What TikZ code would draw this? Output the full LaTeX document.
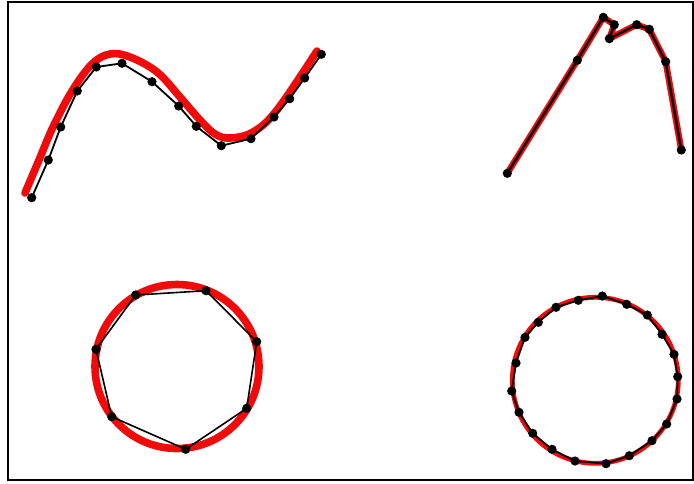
\documentclass[tikz,border=0pt]{standalone}
\usepackage{tikz}
\usetikzlibrary{positioning,calc}
\definecolor{FitRed}{RGB}{240,10,10}
\tikzset{
  vtx/.style={circle,fill=black,inner sep=0pt,minimum size=4.6pt},
  poly/.style={draw=black,line width=0.9pt,line join=round},
  redfit/.style={draw=FitRed,line width=3.8pt,line cap=round,line join=round},
}

\begin{document}
\begin{tikzpicture}[x=0.5pt,y=-0.5pt]
\useasboundingbox (0,0) rectangle (694,483);
\draw[line width=0.9pt] (8,2) rectangle (693,480);
% top left: sampled curve
\coordinate (a1) at (31.7,197.7);
\coordinate (a2) at (48.3,160);
\coordinate (a3) at (60.7,127);
\coordinate (a4) at (77.3,91);
\coordinate (a5) at (96.3,67);
\coordinate (a6) at (122,63.3);
\coordinate (a7) at (152,81.7);
\coordinate (a8) at (178.7,106);
\coordinate (a9) at (196.3,126.3);
\coordinate (a10) at (221.3,145.7);
\coordinate (a11) at (251,138.7);
\coordinate (a12) at (274,117);
\coordinate (a13) at (289.7,98.7);
\coordinate (a14) at (304.7,78);
\coordinate (a15) at (321.3,54.3);
\draw[redfit] plot[smooth,tension=0.6] coordinates {(25,193) (39,160) (53,127) (72,91) (92,64)
  (110,54) (130,57) (157,72) (180,97) (200,120) (215,134) (230,138) (253,132) (277,110) (317,51)};
\draw[poly] (a1)--(a2)--(a3)--(a4)--(a5)--(a6)--(a7)--(a8)--(a9)--(a10)--(a11)--(a12)--(a13)--(a14)--(a15);
\foreach \i in {1,...,15} \node[vtx] (na\i) at (a\i) {};
% top right: sharp curve
\coordinate (b1) at (507.3,173.3);
\coordinate (b2) at (577.3,60.3);
\coordinate (b3) at (603.3,17.3);
\coordinate (b4) at (614.3,24.7);
\coordinate (b5) at (609.3,38.7);
\coordinate (b6) at (636.7,24.7);
\coordinate (b7) at (649.3,29.3);
\coordinate (b8) at (665.7,61.7);
\coordinate (b9) at (681.3,150);
\draw[redfit,line width=3.2pt] (b1)--(b2)--(b3)--(b4)--(b5)--(b6)--(b7)--(b8)--(b9);
\draw[poly,line width=1.2pt] (b1)--(b2)--(b3)--(b4)--(b5)--(b6)--(b7)--(b8)--(b9);
\foreach \i in {1,...,9} \node[vtx] (nb\i) at (b\i) {};
% bottom left: coarse circle
\coordinate (c1) at (135.7,295);
\coordinate (c2) at (206,290.7);
\coordinate (c3) at (256.7,341.7);
\coordinate (c4) at (246.7,408.3);
\coordinate (c5) at (185.7,449.3);
\coordinate (c6) at (111.7,416.7);
\coordinate (c7) at (96,349.3);
\draw[redfit] (177,366.5) circle[radius=82];
\draw[poly,line width=0.8pt] (c1)--(c2)--(c3)--(c4)--(c5)--(c6)--(c7)--cycle;
\foreach \i in {1,...,7} \node[vtx] (nc\i) at (c\i) {};
% bottom right: fine circle
\coordinate (d1) at (602.3,296);
\coordinate (d2) at (626.7,304.3);
\coordinate (d3) at (647.3,315);
\coordinate (d4) at (662,334.3);
\coordinate (d5) at (674,354.3);
\coordinate (d6) at (677.7,376.7);
\coordinate (d7) at (677,399);
\coordinate (d8) at (666.7,424);
\coordinate (d9) at (652,440.7);
\coordinate (d10) at (629.3,455.7);
\coordinate (d11) at (606,463.7);
\coordinate (d12) at (575,461);
\coordinate (d13) at (552,449.3);
\coordinate (d14) at (532.7,433.3);
\coordinate (d15) at (519,412.3);
\coordinate (d16) at (511.7,391);
\coordinate (d17) at (516,363);
\coordinate (d18) at (525,337.3);
\coordinate (d19) at (538.3,322.3);
\coordinate (d20) at (556,307.3);
\coordinate (d21) at (578.3,300.3);
\draw[redfit,line width=2.4pt] (595.3,380.3) circle[radius=83];
\draw[poly] (d1)--(d2)--(d3)--(d4)--(d5)--(d6)--(d7)--(d8)--(d9)--(d10)--(d11)--(d12)--(d13)--(d14)
  --(d15)--(d16)--(d17)--(d18)--(d19)--(d20)--(d21)--cycle;
\foreach \i in {1,...,21} \node[vtx] (nd\i) at (d\i) {};
\end{tikzpicture}
\end{document}
